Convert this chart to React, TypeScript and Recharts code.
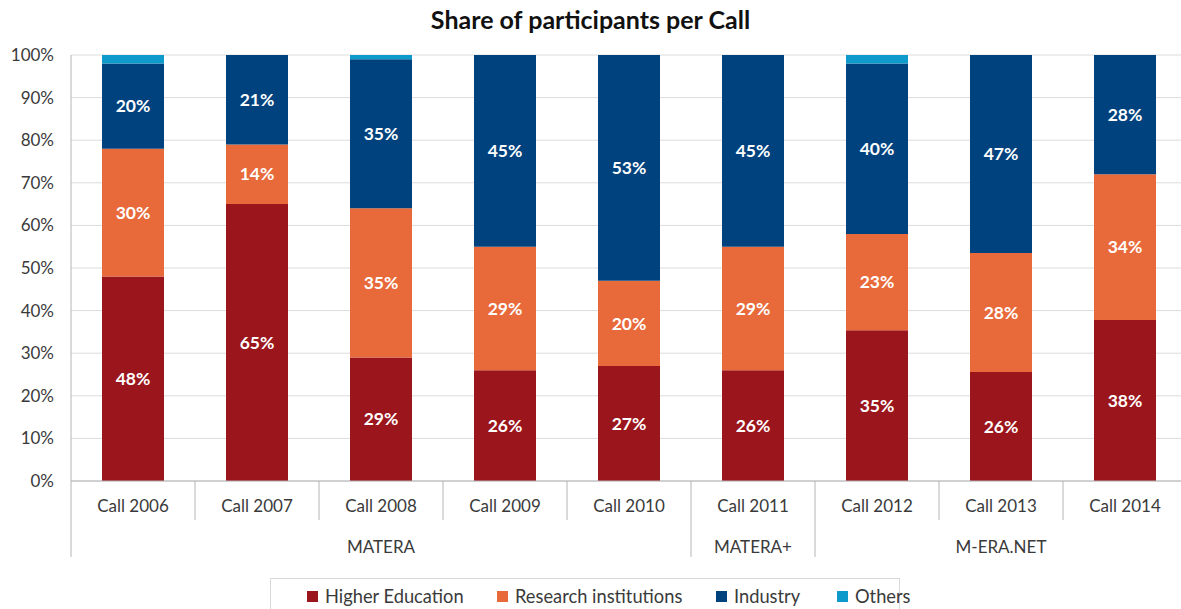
import { BarChart, Bar, XAxis, YAxis, CartesianGrid, LabelList } from "recharts";

const calls = ["Call 2006", "Call 2007", "Call 2008", "Call 2009", "Call 2010", "Call 2011", "Call 2012", "Call 2013", "Call 2014"];
const higherEducation = [48, 65, 29, 26, 27, 26, 35.4, 25.6, 37.8];
const researchInstitutions = [30, 14, 35, 29, 20, 29, 22.6, 27.9, 34.2];
const industry = [20, 21, 35, 45, 53, 45, 40, 46.5, 28];
const others = [2, 0, 1, 0, 0, 0, 2, 0, 0];

const groupNames = ["MATERA", "MATERA+", "M-ERA.NET"];
const groupStarts = [0, 5, 6];
const groupSizes = [5, 1, 3];

const yTicks = [0, 10, 20, 30, 40, 50, 60, 70, 80, 90, 100];

const COLORS = {
  he: "#9b151c",
  ri: "#e8693a",
  ind: "#00427e",
  oth: "#0e9bcb",
};

const FONT = "Lato, 'Open Sans', sans-serif";
const TEXT = "#3a3a3a";
const LINE = "#b5b5b5";

const data = calls.map((name, i) => ({
  name,
  he: higherEducation[i],
  ri: researchInstitutions[i],
  ind: industry[i],
  oth: others[i],
}));

const fmtLabel = (v: any) => (v >= 5 ? `${Math.round(v)}%` : "");

// category label + dividers, plus the group row underneath
function CallTick(props: any) {
  const { x, y, payload, index } = props;
  const half = payload?.offset ?? 62;
  const g = groupStarts.indexOf(index);
  return (
    <g>
      <line x1={x - half} x2={x - half} y1={y} y2={g >= 0 ? y + 76 : y + 39} stroke={LINE} strokeWidth={1} />
      <text x={x} y={y + 31} textAnchor="middle" fill={TEXT} fontSize={17} fontFamily={FONT}>
        {payload.value}
      </text>
      {g >= 0 && (
        <text x={x - half + groupSizes[g] * half} y={y + 72} textAnchor="middle" fill={TEXT} fontSize={17} fontFamily={FONT}>
          {groupNames[g]}
        </text>
      )}
    </g>
  );
}

const legendItems = [
  { label: "Higher Education", color: COLORS.he, left: 306 },
  { label: "Research institutions", color: COLORS.ri, left: 496 },
  { label: "Industry", color: COLORS.ind, left: 715 },
  { label: "Others", color: COLORS.oth, left: 836 },
];

export default function App() {
  return (
    <div style={{ position: "absolute", left: 0, top: 0, width: 1181, height: 609, overflow: "hidden", background: "#fff" }}>
      <div
        style={{
          position: "absolute",
          top: 4,
          left: 0,
          width: 1181,
          textAlign: "center",
          fontFamily: FONT,
          fontWeight: "bold",
          fontSize: 25,
          color: "#111",
        }}
      >
        Share of participants per Call
      </div>

      <BarChart
        width={1200}
        height={609}
        data={data}
        margin={{ top: 55, right: 13, bottom: 48, left: 11 }}
        barSize={62}
      >
        <CartesianGrid vertical={false} stroke="#dcdcdc" />
        <YAxis
          width={60}
          domain={[0, 100]}
          ticks={yTicks}
          tickFormatter={(v) => `${v}%`}
          tickLine={false}
          tickSize={0}
          tickMargin={17}
          axisLine={{ stroke: LINE }}
          tick={{ fill: TEXT, fontSize: 17, fontFamily: FONT }}
        />
        <XAxis
          dataKey="name"
          height={80}
          interval={0}
          tickLine={false}
          tickSize={0}
          tickMargin={0}
          axisLine={{ stroke: LINE }}
          tick={<CallTick />}
        />
        <Bar dataKey="he" stackId="a" fill={COLORS.he} isAnimationActive={false}>
          <LabelList dataKey="he" position="center" formatter={fmtLabel} fill="#fff" fontWeight="bold" fontSize={17.5} fontFamily={FONT} />
        </Bar>
        <Bar dataKey="ri" stackId="a" fill={COLORS.ri} isAnimationActive={false}>
          <LabelList dataKey="ri" position="center" formatter={fmtLabel} fill="#fff" fontWeight="bold" fontSize={17.5} fontFamily={FONT} />
        </Bar>
        <Bar dataKey="ind" stackId="a" fill={COLORS.ind} isAnimationActive={false}>
          <LabelList dataKey="ind" position="center" formatter={fmtLabel} fill="#fff" fontWeight="bold" fontSize={17.5} fontFamily={FONT} />
        </Bar>
        <Bar dataKey="oth" stackId="a" fill={COLORS.oth} isAnimationActive={false} />
      </BarChart>

      <div
        style={{
          position: "absolute",
          left: 270,
          top: 578,
          width: 630,
          height: 40,
          border: "1px solid #d9d9d9",
          boxSizing: "border-box",
        }}
      >
        {legendItems.map((it) => (
          <div
            key={it.label}
            style={{
              position: "absolute",
              left: it.left - 270,
              top: 6,
              display: "flex",
              alignItems: "center",
              fontFamily: FONT,
              fontSize: 18.3,
              color: TEXT,
              whiteSpace: "nowrap",
            }}
          >
            <span style={{ display: "inline-block", width: 11, height: 11, background: it.color, marginRight: 7 }} />
            {it.label}
          </div>
        ))}
      </div>
    </div>
  );
}
